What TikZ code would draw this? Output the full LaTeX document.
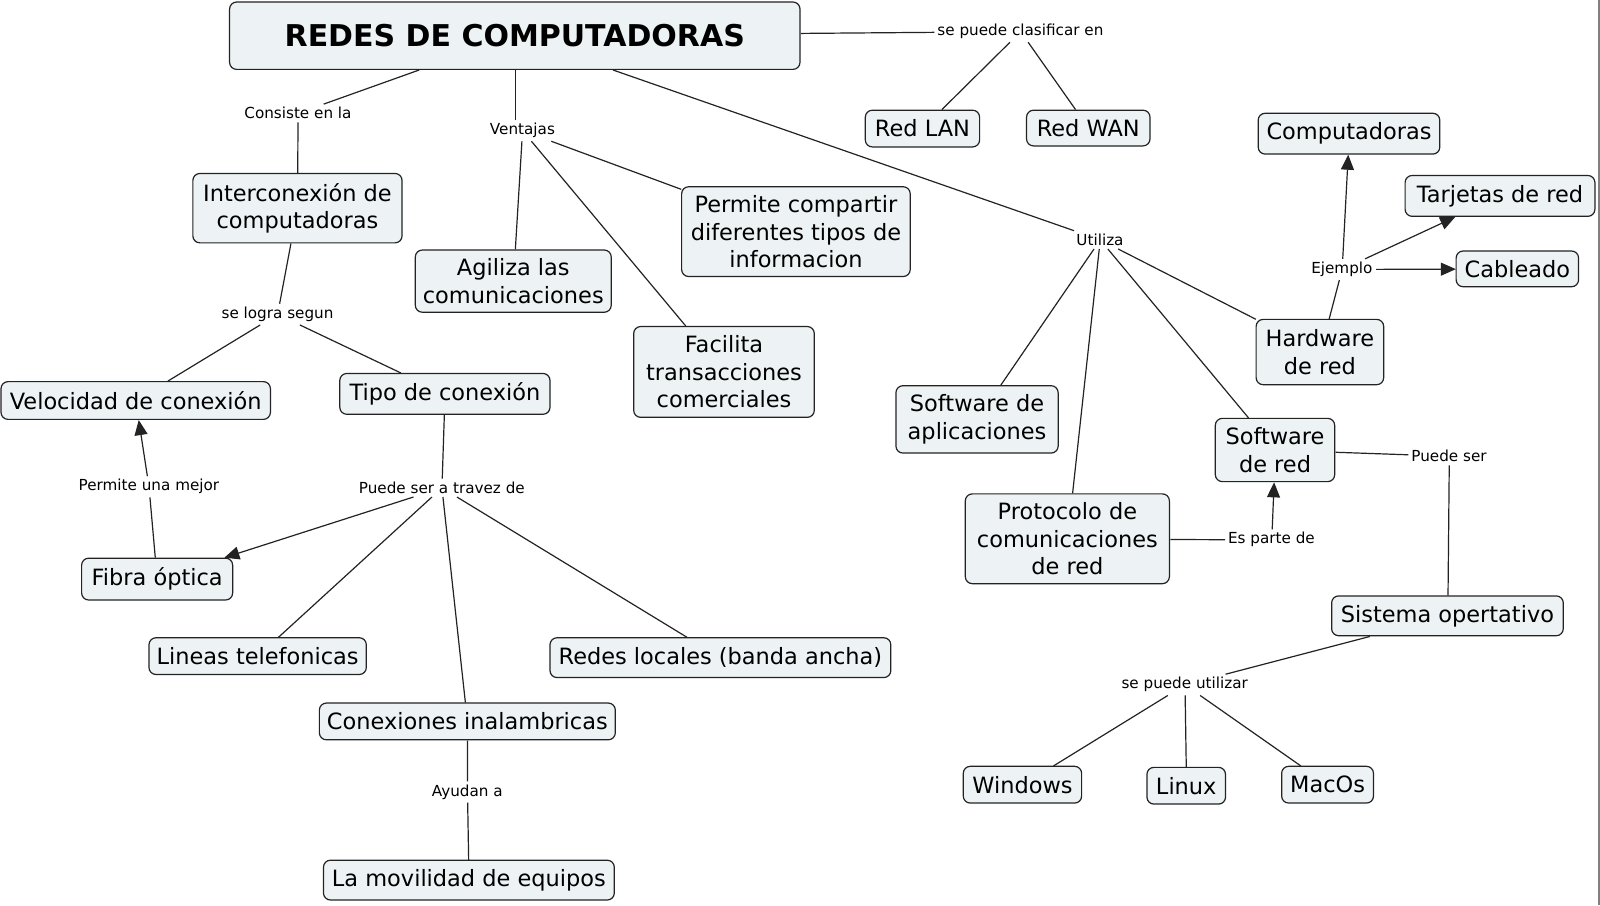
\documentclass[tikz,border=0pt]{standalone}
\usepackage{fontspec}
\setmainfont{DejaVu Sans}
\usetikzlibrary{arrows.meta}
\definecolor{boxfill}{RGB}{237,243,245}
\definecolor{edge}{RGB}{35,35,35}
\begin{document}
\begin{tikzpicture}[x=1pt,y=-1pt,scale=1.0204,every node/.append style={transform shape},
  box/.style={draw=edge, line width=1.2pt, fill=boxfill, rounded corners=7pt, align=center, inner sep=0pt, font=\fontsize{22}{27}\selectfont, text=black},
  lab/.style={font=\fontsize{14.9}{17}\selectfont, inner sep=3pt, text=black},
  con/.style={draw=edge, line width=1.2pt},
  arr/.style={con, -{Triangle[length=15pt,width=13pt]}}]
\useasboundingbox (0,0) rectangle (1568,887);
\fill[white] (0,0) rectangle (1568,887);
\draw[gray, line width=1.5pt] (1567,0) -- (1567,887);

% boxes
\node[box, minimum width=559pt, minimum height=66pt, font=\fontsize{29.4}{34}\selectfont\bfseries] (title) at (504.5,35) {REDES DE COMPUTADORAS};
\node[box, minimum width=112pt, minimum height=36pt] (lan) at (904,126) {Red LAN};
\node[box, minimum width=121pt, minimum height=35pt] (wan) at (1066.5,125.5) {Red WAN};
\node[box, minimum width=178pt, minimum height=40pt] (comp) at (1322,131) {Computadoras};
\node[box, minimum width=186pt, minimum height=40pt] (tarj) at (1470,192) {Tarjetas de red};
\node[box, minimum width=120pt, minimum height=35pt] (cabl) at (1487,263.5) {Cableado};
\node[box, minimum width=125pt, minimum height=64pt] (hard) at (1293.5,345) {Hardware\\de red};
\node[box, minimum width=159pt, minimum height=66pt] (swapp) at (957.5,411) {Software de\\aplicaciones};
\node[box, minimum width=117pt, minimum height=62pt] (swred) at (1249.5,441) {Software\\de red};
\node[box, minimum width=200pt, minimum height=88pt] (proto) at (1046,528) {Protocolo de\\comunicaciones\\de red};
\node[box, minimum width=227pt, minimum height=39pt] (sist) at (1418.5,603.5) {Sistema opertativo};
\node[box, minimum width=116pt, minimum height=36pt] (win) at (1002,769) {Windows};
\node[box, minimum width=77pt, minimum height=36pt] (linux) at (1162.5,770) {Linux};
\node[box, minimum width=90pt, minimum height=36pt] (mac) at (1301,769) {MacOs};
\node[box, minimum width=205pt, minimum height=68pt] (inter) at (291.5,204) {Interconexión de\\computadoras};
\node[box, minimum width=264pt, minimum height=37pt] (veloc) at (133,392.5) {Velocidad de conexión};
\node[box, minimum width=206pt, minimum height=40pt] (tipo) at (436,386) {Tipo de conexión};
\node[box, minimum width=148pt, minimum height=41pt] (fibra) at (154,567.5) {Fibra óptica};
\node[box, minimum width=213pt, minimum height=36pt] (lineas) at (252.5,643) {Lineas telefonicas};
\node[box, minimum width=334pt, minimum height=39pt] (redesl) at (706,644.5) {Redes locales (banda ancha)};
\node[box, minimum width=290pt, minimum height=36pt] (inal) at (458,707) {Conexiones inalambricas};
\node[box, minimum width=285pt, minimum height=39pt] (movil) at (459.5,862.5) {La movilidad de equipos};
\node[box, minimum width=192pt, minimum height=61pt] (agil) at (503,275.5) {Agiliza las\\comunicaciones};
\node[box, minimum width=224pt, minimum height=88pt] (compart) at (780,227) {Permite compartir\\diferentes tipos de\\informacion};
\node[box, minimum width=177pt, minimum height=89pt] (facil) at (709.5,364.5) {Facilita\\transacciones\\comerciales};

% labels
\node[lab] (lclas) at (1000,31) {se puede clasificar en};
\node[lab] (lejem) at (1315,264) {Ejemplo};
\node[lab] (lutil) at (1078,235) {Utiliza};
\node[lab] (lpsr) at (1420,447) {Puede ser};
\node[lab] (lparte) at (1246,529) {Es parte de};
\node[lab] (lsput) at (1161,671) {se puede utilizar};
\node[lab] (lcons) at (292,111) {Consiste en la};
\node[lab] (llogra) at (272,308) {se logra segun};
\node[lab] (lmejor) at (146,477) {Permite una mejor};
\node[lab] (ltravez) at (433,478) {Puede ser a travez de};
\node[lab] (layud) at (458,776) {Ayudan a};
\node[lab] (lvent) at (512,128) {Ventajas};

% connectors
\draw[con] (title) -- (lclas);
\draw[con] (lclas) -- (lan);
\draw[con] (lclas) -- (wan);
\draw[con] (title) -- (lcons);
\draw[con] (lcons) -- (inter);
\draw[con] ([xshift=-7pt]lvent.north) -- ([xshift=-7pt]lvent.north |- title.south);
\draw[con] (title) -- (lutil);
\draw[con] (lvent) -- (agil);
\draw[con] (lvent) -- (compart);
\draw[con] (lvent) -- (facil);
\draw[con] (inter) -- (llogra);
\draw[con] (llogra) -- (veloc);
\draw[con] (llogra) -- (tipo);
\draw[con] (tipo) -- (ltravez);
\draw[arr] (ltravez) -- (fibra);
\draw[con] (ltravez) -- (lineas);
\draw[con] (ltravez) -- (inal);
\draw[con] (ltravez) -- (redesl);
\draw[con] (fibra) -- (lmejor);
\draw[arr] (lmejor) -- (veloc);
\draw[con] (inal) -- (layud);
\draw[con] (layud) -- (movil);
\draw[con] (lutil) -- (swapp);
\draw[con] (lutil) -- (proto);
\draw[con] (lutil) -- (swred);
\draw[con] (lutil) -- (hard);
\draw[con] (hard) -- (lejem);
\draw[arr] (lejem) -- (comp);
\draw[arr] (lejem) -- (tarj);
\draw[arr] (lejem) -- (cabl);
\draw[con] (proto) -- (lparte);
\draw[arr] (lparte) -- (swred);
\draw[con] (swred) -- (lpsr);
\draw[con] (lpsr) -- (sist);
\draw[con] (sist) -- (lsput);
\draw[con] (lsput) -- (win);
\draw[con] (lsput) -- (linux);
\draw[con] (lsput) -- (mac);
\end{tikzpicture}
\end{document}
